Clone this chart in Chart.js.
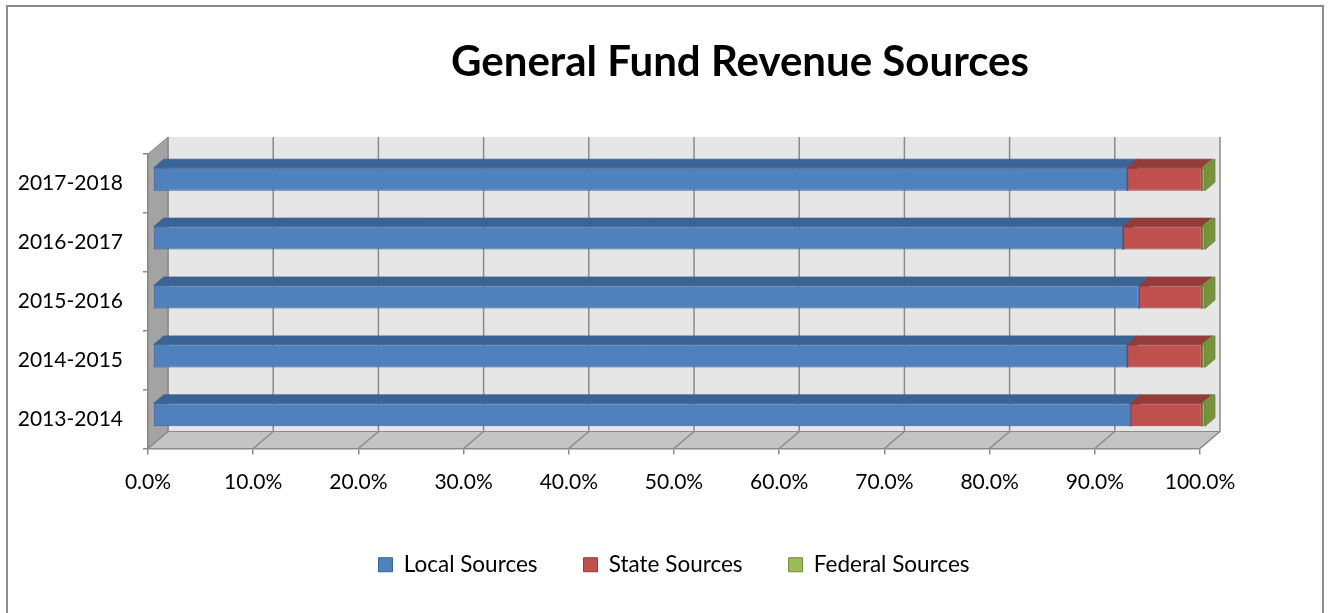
<!DOCTYPE html>
<html>
<head>
<meta charset="utf-8">
<script src="https://cdn.jsdelivr.net/npm/chart.js@4.4.0/dist/chart.umd.min.js"></script>
<style>
  html, body { margin: 0; padding: 0; background: #fff; }
</style>
</head>
<body>
<canvas id="revenueChart" width="1329" height="613"></canvas>
<script>
const years = ['2013-2014', '2014-2015', '2015-2016', '2016-2017', '2017-2018'];
const localSources = [92.9, 92.6, 93.7, 92.2, 92.6];
const stateSources = [6.8, 7.1, 6.0, 7.5, 7.1];
const federalSources = [0.3, 0.3, 0.3, 0.3, 0.3];

const TITLE = 'General Fund Revenue Sources';
const FONT = 'Lato, "Open Sans", sans-serif';

// depth of the 3D box (back wall offset) and of the bars inside it
const WALL_DX = 20, WALL_DY = -17;
const BAR_FRONT = 0.25, BAR_BACK = 0.75;

function poly(ctx, pts, fill, stroke, lw) {
  ctx.beginPath();
  ctx.moveTo(pts[0][0], pts[0][1]);
  for (let i = 1; i < pts.length; i++) ctx.lineTo(pts[i][0], pts[i][1]);
  ctx.closePath();
  if (fill) { ctx.fillStyle = fill; ctx.fill(); }
  if (stroke) { ctx.strokeStyle = stroke; ctx.lineWidth = lw || 1; ctx.stroke(); }
}

const box3d = {
  id: 'box3d',
  beforeDraw(chart) {
    const { ctx, chartArea: a } = chart;
    const xs = chart.scales.x;
    ctx.save();
    ctx.fillStyle = '#fff';
    ctx.fillRect(0, 0, chart.width, chart.height);

    // outer frame
    ctx.strokeStyle = '#8c8c8c';
    ctx.lineWidth = 2;
    ctx.beginPath();
    ctx.moveTo(7, chart.height + 2);
    ctx.lineTo(7, 6);
    ctx.lineTo(1323, 6);
    ctx.lineTo(1323, chart.height + 2);
    ctx.stroke();

    // title, centred over the whole plot block
    ctx.fillStyle = '#000';
    ctx.font = 'bold 42px ' + FONT;
    ctx.textAlign = 'center';
    ctx.textBaseline = 'middle';
    ctx.fillText(TITLE, 740, 62);

    const L = a.left, R = a.right, T = a.top, B = a.bottom;
    // back wall
    poly(ctx, [[L + WALL_DX, T + WALL_DY], [R + WALL_DX, T + WALL_DY], [R + WALL_DX, B + WALL_DY], [L + WALL_DX, B + WALL_DY]], '#e6e6e6');
    // left wall
    poly(ctx, [[L, T], [L + WALL_DX, T + WALL_DY], [L + WALL_DX, B + WALL_DY], [L, B]], '#a3a3a3', '#8a8a8a', 1);
    // floor
    poly(ctx, [[L, B], [R, B], [R + WALL_DX, B + WALL_DY], [L + WALL_DX, B + WALL_DY]], '#c4c4c4', '#8a8a8a', 1);

    // gridlines on the back wall and across the floor
    ctx.strokeStyle = '#8a8a8a';
    ctx.lineWidth = 1.5;
    xs.ticks.forEach(t => {
      const px = xs.getPixelForValue(t.value);
      ctx.beginPath();
      ctx.moveTo(px, B);
      ctx.lineTo(px + WALL_DX, B + WALL_DY);
      ctx.lineTo(px + WALL_DX, T + WALL_DY);
      ctx.stroke();
    });
    ctx.restore();
  },
  beforeDatasetDraw() {
    // bars are drawn as 3D blocks below, in dataset order
    return false;
  },
  afterDatasetsDraw(chart) {
    const ctx = chart.ctx;
    const fx = WALL_DX * BAR_FRONT, fy = WALL_DY * BAR_FRONT;
    const dx = WALL_DX * (BAR_BACK - BAR_FRONT), dy = WALL_DY * (BAR_BACK - BAR_FRONT);
    ctx.save();
    ctx.translate(fx, fy);
    chart.data.datasets.forEach((ds, i) => {
      const meta = chart.getDatasetMeta(i);
      meta.data.forEach(bar => {
        const { x, y, base, height } = bar.getProps(['x', 'y', 'base', 'height'], true);
        const left = Math.min(x, base), right = Math.max(x, base);
        const top = y - height / 2, bottom = y + height / 2;
        bar.draw(ctx);
        poly(ctx, [[left, top], [right, top], [right + dx, top + dy], [left + dx, top + dy]], ds.topColor, ds.borderColor, 0.8);
        poly(ctx, [[right, top], [right + dx, top + dy], [right + dx, bottom + dy], [right, bottom]], ds.sideColor, ds.borderColor, 0.8);
      });
    });
    ctx.restore();
  }
};

new Chart(document.getElementById('revenueChart'), {
  type: 'bar',
  data: {
    labels: years,
    datasets: [
      {
        label: 'Local Sources',
        data: localSources,
        backgroundColor: '#4f81bd',
        borderColor: '#3a6090',
        topColor: '#3b6496',
        sideColor: '#3b6496',
        borderWidth: 1,
        borderSkipped: false
      },
      {
        label: 'State Sources',
        data: stateSources,
        backgroundColor: '#c0504d',
        borderColor: '#8e3a38',
        topColor: '#943c3a',
        sideColor: '#943c3a',
        borderWidth: 1,
        borderSkipped: false
      },
      {
        label: 'Federal Sources',
        data: federalSources,
        backgroundColor: '#9bbb59',
        borderColor: '#6f8a3e',
        topColor: '#7c9a41',
        sideColor: '#77933c',
        borderWidth: 1,
        borderSkipped: false
      }
    ]
  },
  options: {
    indexAxis: 'y',
    responsive: false,
    animation: false,
    categoryPercentage: 1,
    barPercentage: 0.39,
    layout: { padding: { top: 154, left: 0, right: 129, bottom: 27 } },
    plugins: {
      title: { display: false },
      legend: {
        position: 'bottom',
        fullSize: false,
        labels: {
          color: '#000',
          font: { family: FONT, size: 22.5 },
          boxWidth: 14,
          boxHeight: 14,
          padding: 46
        }
      },
      tooltip: { enabled: false }
    },
    scales: {
      x: {
        stacked: true,
        min: 0,
        max: 100,
        ticks: {
          stepSize: 10,
          color: '#000',
          font: { family: FONT, size: 21 },
          padding: 15,
          maxRotation: 0,
          autoSkip: false,
          callback: v => v.toFixed(1) + '%'
        },
        grid: { drawOnChartArea: false, tickLength: 6, color: '#8a8a8a', lineWidth: 1.5 },
        border: { color: '#8a8a8a', width: 1.5 },
        afterFit: s => { s.height = 59; }
      },
      y: {
        stacked: true,
        reverse: true,
        ticks: {
          color: '#000',
          font: { family: FONT, size: 21 },
          padding: 20
        },
        grid: { drawOnChartArea: false, offset: true, tickLength: 5, color: '#8a8a8a', lineWidth: 1.5 },
        border: { color: '#8a8a8a', width: 1.5 },
        afterFit: s => { s.width = 148; }
      }
    }
  },
  plugins: [box3d]
});
</script>
</body>
</html>
